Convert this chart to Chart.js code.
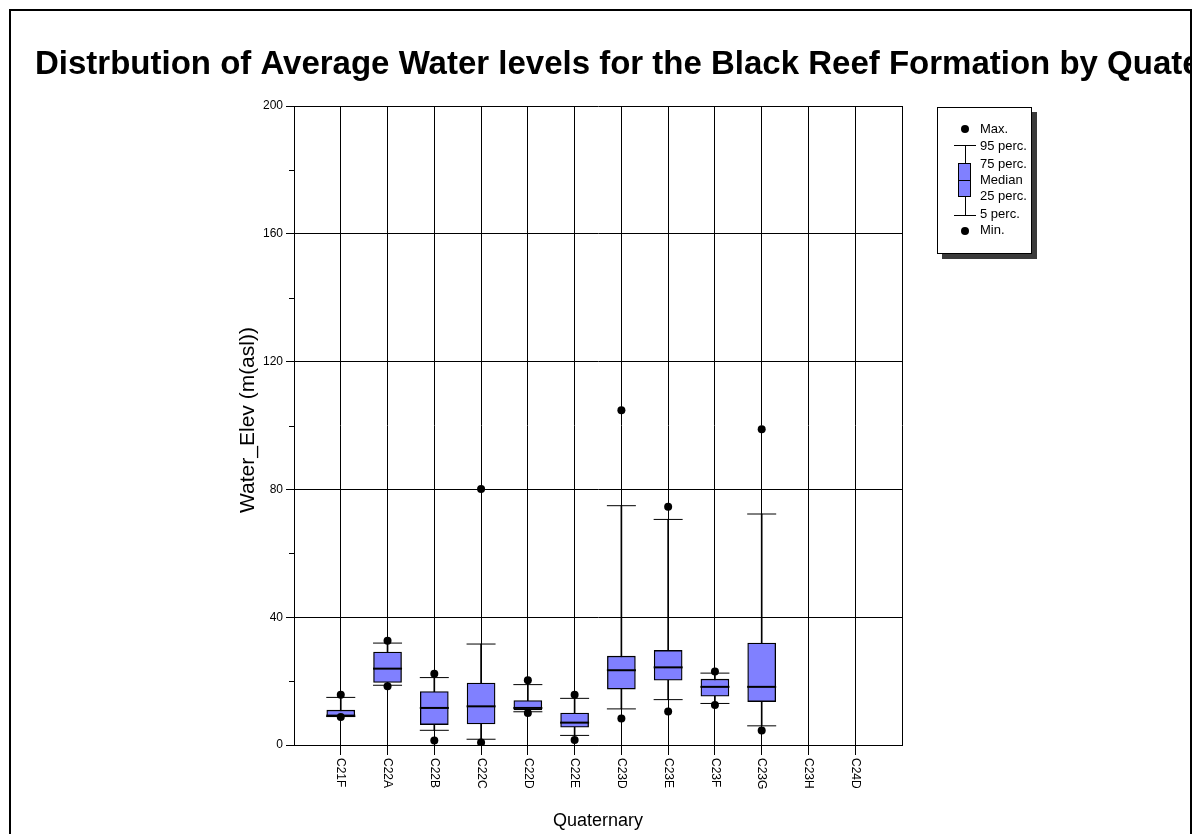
<!DOCTYPE html>
<html>
<head>
<meta charset="utf-8">
<script src="https://cdn.jsdelivr.net/npm/chart.js@4.4.1/dist/chart.umd.min.js"></script>
<style>
  html, body { margin: 0; padding: 0; background: #fff; }
  #wrap { width: 1194px; height: 834px; }
</style>
</head>
<body>
<div id="wrap"><canvas id="chart" width="1194" height="834"></canvas></div>
<script>
const categories = ["C21F", "C22A", "C22B", "C22C", "C22D", "C22E", "C23D", "C23E", "C23F", "C23G", "C23H", "C24D"];
const minVals = [8.8, 18.4, 1.4, 0.8, 10.0, 1.6, 8.3, 10.5, 12.5, 4.5, null, null];
const p5Vals = [8.9, 18.7, 4.6, 1.8, 10.4, 3.0, 11.3, 14.2, 13.0, 6.0, null, null];
const q1Vals = [8.9, 19.6, 6.4, 6.6, 11.0, 5.6, 17.5, 20.3, 15.3, 13.6, null, null];
const medianVals = [9.2, 23.9, 11.6, 12.1, 11.6, 7.0, 23.4, 24.3, 18.2, 18.2, null, null];
const q3Vals = [10.9, 29.1, 16.7, 19.4, 13.9, 10.0, 27.8, 29.6, 20.6, 31.9, null, null];
const p95Vals = [14.9, 31.9, 21.1, 31.6, 18.9, 14.6, 74.9, 70.6, 22.5, 72.3, null, null];
const maxVals = [15.7, 32.6, 22.3, 80.1, 20.3, 15.7, 104.8, 74.6, 23.0, 98.8, null, null];

const yTicks = [0, 40, 80, 120, 160, 200];
const legendItems = ["Max.", "95 perc.", "75 perc.", "Median", "25 perc.", "5 perc.", "Min."];

const titleText = "Distrbution of Average Water levels for the Black Reef Formation by Quaternary";
const xTitle = "Quaternary";
const yTitle = "Water_Elev (m(asl))";

const FONT = "'Liberation Sans', Arial, Helvetica, sans-serif";
const BOX_COLOR = "#8080ff";

const points = (vals) => vals.map((v, i) => ({ x: i, y: v }));
const ranges = (lo, hi) => lo.map((v, i) => ({ x: i, y: v === null ? null : [v, hi[i]] }));

// frame, titles, rotated category labels, minor ticks and the legend
const decor = {
  id: "decor",
  afterDraw(chart) {
    const ctx = chart.ctx;
    const area = chart.chartArea;
    const xs = chart.scales.x;
    const ys = chart.scales.y;
    ctx.save();

    ctx.strokeStyle = "#000";
    ctx.lineWidth = 2;
    ctx.strokeRect(10, 10, 1181, 900);

    ctx.save();
    ctx.beginPath();
    ctx.rect(11, 11, 1179, 100);
    ctx.clip();
    ctx.fillStyle = "#000";
    ctx.font = `bold 33px ${FONT}`;
    ctx.textAlign = "left";
    ctx.textBaseline = "alphabetic";
    ctx.fillText(titleText, 35, 74);
    ctx.restore();

    ctx.lineWidth = 1;
    [20, 60, 100, 140, 180].forEach((v) => {
      const y = Math.round(ys.getPixelForValue(v)) + 0.5;
      ctx.beginPath();
      ctx.moveTo(area.left - 5, y);
      ctx.lineTo(area.left, y);
      ctx.stroke();
    });

    ctx.fillStyle = "#000";
    ctx.font = `12px ${FONT}`;
    categories.forEach((c, i) => {
      ctx.save();
      ctx.translate(xs.getPixelForValue(i), area.bottom + 13);
      ctx.rotate(Math.PI / 2);
      ctx.textAlign = "left";
      ctx.textBaseline = "middle";
      ctx.fillText(c, 0, 0);
      ctx.restore();
    });

    ctx.font = `18px ${FONT}`;
    ctx.textAlign = "center";
    ctx.textBaseline = "middle";
    ctx.fillText(xTitle, (area.left + area.right) / 2, 821);

    ctx.save();
    ctx.translate(248, 420);
    ctx.rotate(-Math.PI / 2);
    ctx.font = `21px ${FONT}`;
    ctx.fillText(yTitle, 0, 0);
    ctx.restore();

    // legend
    ctx.fillStyle = "#3a3a3a";
    ctx.fillRect(942, 112, 95, 147);
    ctx.fillStyle = "#fff";
    ctx.fillRect(937, 107, 95, 147);
    ctx.strokeStyle = "#000";
    ctx.strokeRect(937.5, 107.5, 94, 146);

    const gx = 965;
    ctx.fillStyle = "#000";
    ctx.beginPath(); ctx.arc(gx, 129, 4, 0, Math.PI * 2); ctx.fill();
    ctx.beginPath(); ctx.arc(gx, 231, 4, 0, Math.PI * 2); ctx.fill();
    ctx.beginPath();
    ctx.moveTo(gx + 0.5, 145); ctx.lineTo(gx + 0.5, 215);
    ctx.moveTo(954, 145.5); ctx.lineTo(976, 145.5);
    ctx.moveTo(954, 215.5); ctx.lineTo(976, 215.5);
    ctx.stroke();
    ctx.fillStyle = BOX_COLOR;
    ctx.fillRect(958, 163, 13, 34);
    ctx.strokeRect(958.5, 163.5, 12, 33);
    ctx.beginPath(); ctx.moveTo(958, 180.5); ctx.lineTo(971, 180.5); ctx.stroke();

    const ly = [129, 146, 164, 180, 196, 214, 230];
    ctx.fillStyle = "#000";
    ctx.font = `13px ${FONT}`;
    ctx.textAlign = "left";
    ctx.textBaseline = "middle";
    legendItems.forEach((t, i) => ctx.fillText(t, 980, ly[i]));

    ctx.restore();
  }
};

const chart = new Chart(document.getElementById("chart"), {
  type: "scatter",
  data: {
    datasets: [
      {
        label: "Min/Max",
        data: [...points(minVals), ...points(maxVals)],
        pointStyle: "circle",
        pointRadius: 4,
        pointBackgroundColor: "#000",
        pointBorderWidth: 0,
        order: 0,
      },
      {
        label: "Median",
        data: points(medianVals),
        pointStyle: "line",
        pointRadius: 14.5,
        pointBorderColor: "#000",
        pointBorderWidth: 2,
        order: 1,
      },
      {
        label: "5/95 perc.",
        data: [...points(p5Vals), ...points(p95Vals)],
        pointStyle: "line",
        pointRadius: 14.5,
        pointBorderColor: "#000",
        pointBorderWidth: 1,
        order: 2,
      },
      {
        type: "bar",
        label: "25-75 perc.",
        data: ranges(q1Vals, q3Vals),
        backgroundColor: BOX_COLOR,
        borderColor: "#000",
        borderWidth: 1.3,
        borderSkipped: false,
        barThickness: 28,
        grouped: false,
        order: 3,
      },
      {
        type: "bar",
        label: "Whisker",
        data: ranges(p5Vals, p95Vals),
        backgroundColor: "#000",
        borderWidth: 0,
        barThickness: 1,
        grouped: false,
        order: 4,
      },
    ],
  },
  options: {
    responsive: false,
    animation: false,
    events: [],
    layout: { padding: { left: 0, top: 106, right: 292, bottom: 0 } },
    plugins: {
      legend: { display: false },
      tooltip: { enabled: false },
      title: { display: false },
    },
    scales: {
      x: {
        type: "linear",
        min: -1,
        max: 12,
        offset: false,
        ticks: { stepSize: 1, display: false },
        grid: {
          offset: false,
          color: "#000",
          lineWidth: 1,
          tickLength: 10,
          tickColor: (c) => (c.tick && c.tick.value >= 0 && c.tick.value < categories.length ? "#000" : "transparent"),
        },
        border: { color: "#000", width: 1 },
        afterFit: (s) => { s.height = 89; },
      },
      y: {
        min: 0,
        max: 200,
        ticks: {
          stepSize: 20,
          color: "#000",
          padding: 3,
          font: { family: FONT, size: 12 },
          callback: (v) => (yTicks.includes(v) ? v : ""),
        },
        grid: {
          color: (c) => (c.tick && yTicks.includes(c.tick.value) ? "#000" : "transparent"),
          tickLength: 8,
          tickColor: (c) => (c.tick && yTicks.includes(c.tick.value) ? "#000" : "transparent"),
        },
        border: { color: "#000", width: 1 },
        afterFit: (s) => { s.width = 294; },
      },
    },
  },
  plugins: [decor],
});
</script>
</body>
</html>
